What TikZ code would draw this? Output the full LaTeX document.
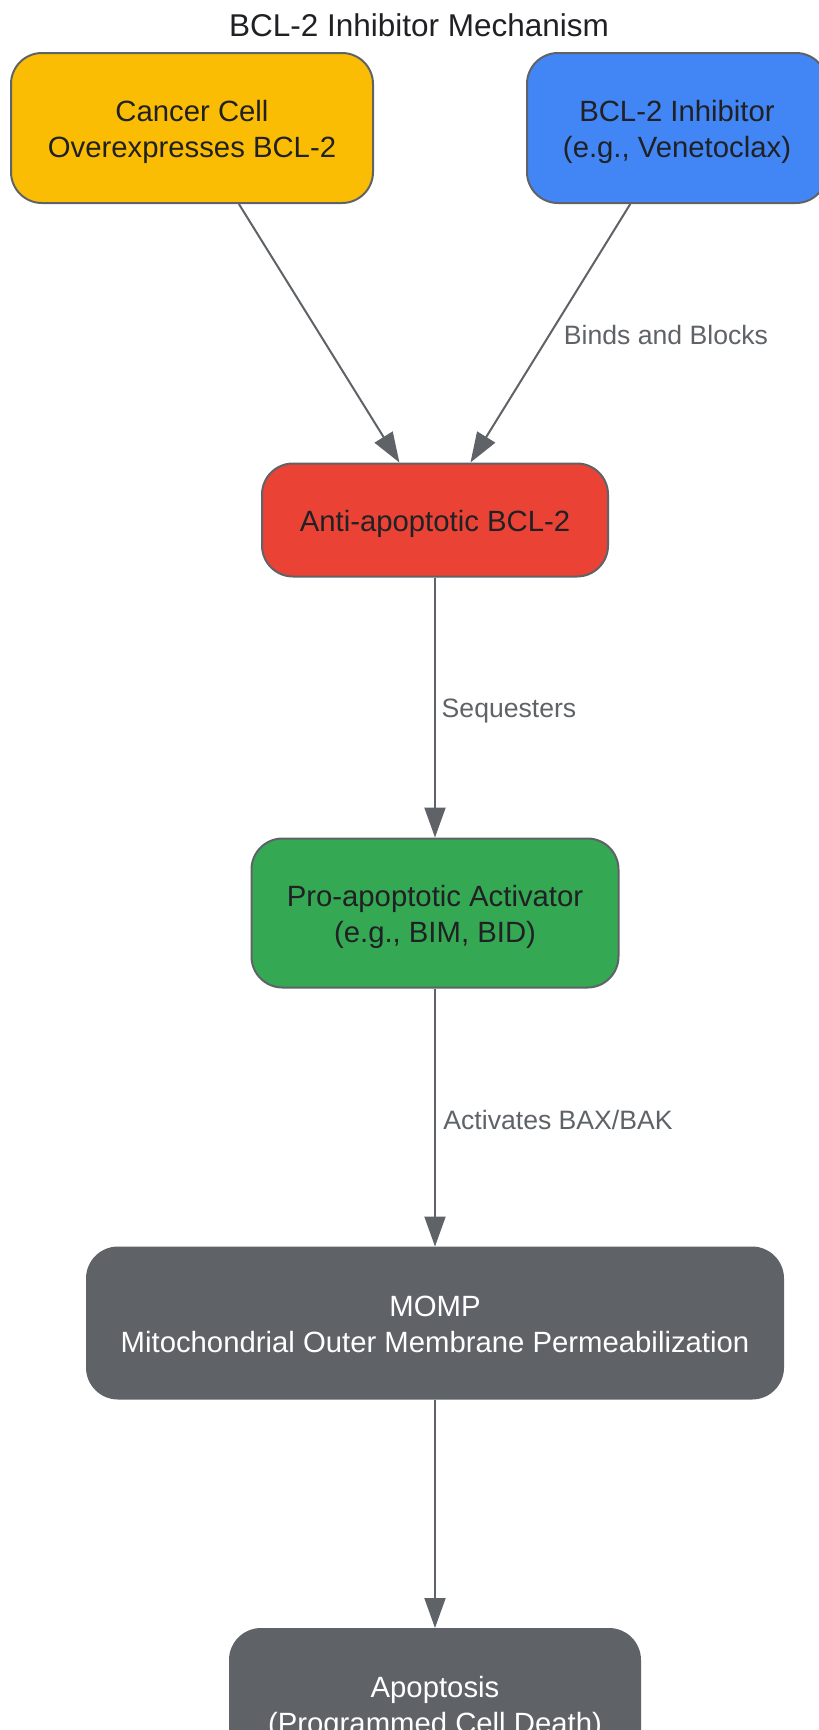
\documentclass[tikz,border=0pt]{standalone}
\usepackage{fontspec}
\setmainfont{Liberation Sans}
\usetikzlibrary{arrows.meta}
\definecolor{cyellow}{HTML}{FBBC04}
\definecolor{cblue}{HTML}{4285F4}
\definecolor{cred}{HTML}{EA4335}
\definecolor{cgreen}{HTML}{34A853}
\definecolor{cgrey}{HTML}{5F6368}
\definecolor{cdark}{HTML}{202124}
\newcommand{\boxtxt}[1]{\raisebox{-4pt}[\height][\depth]{\begin{tabular}{@{}c@{}}#1\end{tabular}}}
\begin{document}
\begin{tikzpicture}[x=1pt,y=-1pt,
  box/.style={draw=cgrey, line width=2pt, rounded corners=31pt, inner sep=0pt, align=center,
    font=\fontsize{29.3}{36.5}\selectfont, text=cdark},
  darkbox/.style={box, fill=cgrey, text=white},
  conn/.style={draw=cgrey, line width=2pt, -{Triangle[length=30pt,width=21pt]}},
  lbl/.style={text=cgrey, font=\fontsize{26.6}{32}\selectfont, inner sep=0pt},
]
\clip (0,0) rectangle (819,1730);
\fill[white] (0,0) rectangle (819,1730);

\node[font=\fontsize{31.5}{38}\selectfont, text=cdark, inner sep=0pt] (title) at (419,25) {BCL-2 Inhibitor Mechanism};

\node[box, fill=cyellow, minimum width=362pt, minimum height=150pt] (cancer) at (192,128)
  {\boxtxt{Cancer Cell\\Overexpresses BCL-2}};
\node[box, fill=cblue, minimum width=300pt, minimum height=150pt] (inhib) at (677,128)
  {\boxtxt{BCL-2 Inhibitor\\(e.g., Venetoclax)}};
\node[box, fill=cred, minimum width=346pt, minimum height=113pt] (anti) at (435,520)
  {\boxtxt{Anti-apoptotic BCL-2}};
\node[box, fill=cgreen, minimum width=367pt, minimum height=149pt] (pro) at (435,913)
  {\boxtxt{Pro-apoptotic Activator\\(e.g., BIM, BID)}};
\node[darkbox, minimum width=696pt, minimum height=151pt] (momp) at (435,1323)
  {\boxtxt{MOMP\\Mitochondrial Outer Membrane Permeabilization}};
\node[darkbox, minimum width=410pt, minimum height=150pt] (apop) at (435,1704)
  {\boxtxt{Apoptosis\\(Programmed Cell Death)}};

\draw[conn] (cancer) -- (anti);
\draw[conn] (inhib) -- (anti);
\draw[conn] (anti) -- (pro);
\draw[conn] (pro) -- (momp);
\draw[conn] (momp) -- (apop);

\node[lbl] (l1) at (666,335) {Binds and Blocks};
\node[lbl] (l2) at (509,711) {Sequesters};
\node[lbl] (l3) at (558,1120) {Activates BAX/BAK};
\end{tikzpicture}
\end{document}
